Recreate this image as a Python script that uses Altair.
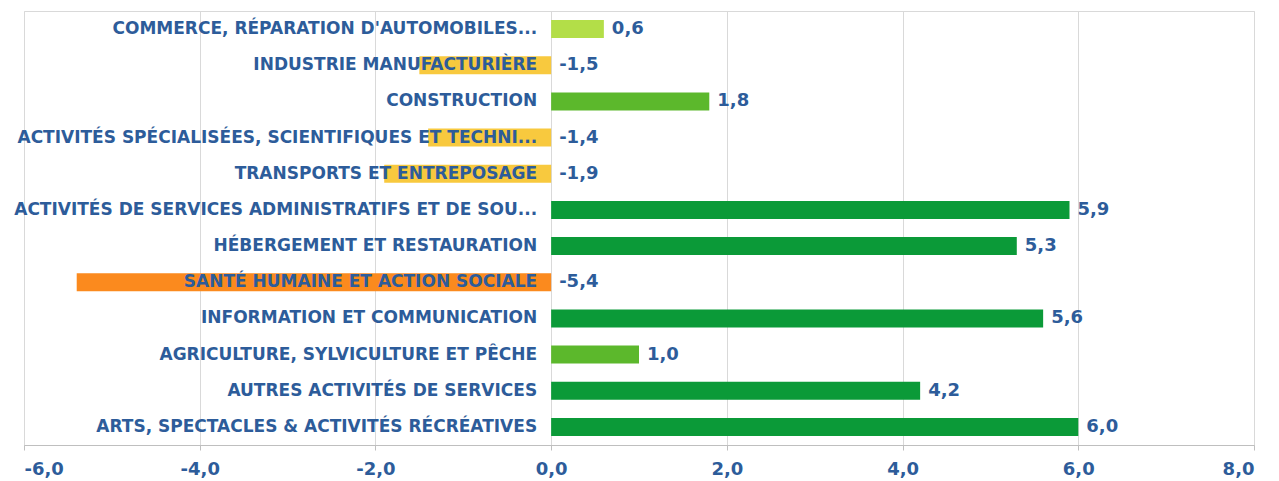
import altair as alt
import pandas as pd

categories = [
    "COMMERCE, RÉPARATION D'AUTOMOBILES...",
    "INDUSTRIE MANUFACTURIÈRE",
    "CONSTRUCTION",
    "ACTIVITÉS SPÉCIALISÉES, SCIENTIFIQUES ET TECHNI...",
    "TRANSPORTS ET ENTREPOSAGE",
    "ACTIVITÉS DE SERVICES ADMINISTRATIFS ET DE SOU...",
    "HÉBERGEMENT ET RESTAURATION",
    "SANTÉ HUMAINE ET ACTION SOCIALE",
    "INFORMATION ET COMMUNICATION",
    "AGRICULTURE, SYLVICULTURE ET PÊCHE",
    "AUTRES ACTIVITÉS DE SERVICES",
    "ARTS, SPECTACLES & ACTIVITÉS RÉCRÉATIVES",
]
values = [0.6, -1.5, 1.8, -1.4, -1.9, 5.9, 5.3, -5.4, 5.6, 1.0, 4.2, 6.0]
colors = ["#B3DE48", "#F8C93E", "#5CB82C", "#F8C93E", "#F8C93E", "#0B9A38",
          "#0B9A38", "#FB8A1E", "#0B9A38", "#5CB82C", "#0B9A38", "#0B9A38"]

df = pd.DataFrame({"cat": categories, "val": values, "col": colors})
df["lab"] = [f"{v:.1f}".replace(".", ",") for v in values]
df["lpos"] = [max(v, 0) for v in values]

BLUE = "#2D5C9A"
FONT = "DejaVu Sans"

x_scale = alt.Scale(domain=[-6, 8], nice=False)
y_enc = alt.Y("cat:N", sort=categories, scale=alt.Scale(paddingInner=0.5, paddingOuter=0.25),
              axis=None)

bars = alt.Chart(df).mark_bar(size=18).encode(
    x=alt.X("val:Q", scale=x_scale, axis=alt.Axis(
        values=[-6, -4, -2, 0, 2, 4, 6, 8],
        labelExpr="replace(replace(format(datum.value, '.1f'), '.', ','), '\u2212', '-')",
        title=None, grid=True, gridColor="#D9D9D9", domainColor="#BFBFBF",
        ticks=True, tickSize=5, tickColor="#BFBFBF",
        labelFont=FONT, labelFontSize=18, labelFontWeight="bold",
        labelColor=BLUE, labelPadding=10)),
    x2=alt.datum(0),
    y=y_enc,
    color=alt.Color("col:N", scale=None),
)

zero_axis = alt.Chart(df).mark_tick(opacity=0).encode(
    y=alt.Y("cat:N", sort=categories, axis=alt.Axis(
        labels=False, title=None, domain=False, ticks=True, tickBand="extent",
        tickSize=5, tickColor="#BFBFBF", offset=-527)),
    x=alt.X("val:Q", scale=x_scale),
)

cat_labels = alt.Chart(df).mark_text(
    align="right", baseline="middle", dx=-14, font=FONT, fontSize=17,
    fontWeight="bold", color=BLUE,
).encode(x=alt.datum(0), y=y_enc, text="cat:N")

val_labels = alt.Chart(df).mark_text(
    align="left", baseline="middle", dx=8, font=FONT, fontSize=18,
    fontWeight="bold", color=BLUE,
).encode(x=alt.X("lpos:Q", scale=x_scale), y=y_enc, text="lab:N")

chart = alt.layer(zero_axis, bars, cat_labels, val_labels).properties(
    width=1230, height=434,
    padding={"left": 16, "top": 3, "right": 17, "bottom": 36},
    autosize=alt.AutoSizeParams(type="none"),
    background="white",
).configure_view(stroke="#D9D9D9")

chart.save("out.html", embed_options={"renderer": "svg", "actions": False})
